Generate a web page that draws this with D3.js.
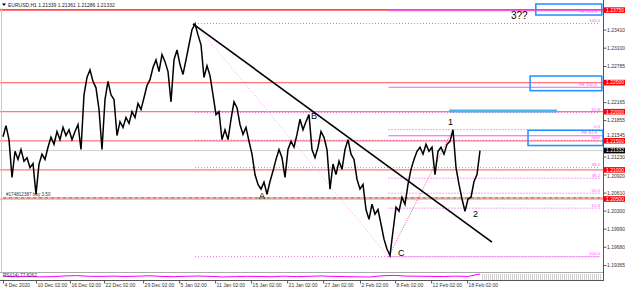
<!DOCTYPE html>
<html>
<head>
<meta charset="utf-8">
<script src="https://cdn.jsdelivr.net/npm/d3@7"></script>
<style>
  body { margin: 0; background: #fff; }
  svg text { font-family: "Liberation Sans", Arial, sans-serif; }
</style>
</head>
<body>
<div id="chart"></div>
<script>
// EURUSD H1 closes, one sample every few bars
var closes = [
  1.2157, 1.2176, 1.2152, 1.2087, 1.2132, 1.2118, 1.2135, 1.2115, 1.2121, 1.2104,
  1.2111, 1.2058, 1.2110, 1.2127, 1.2118, 1.2139, 1.2156, 1.2144, 1.2166, 1.2152,
  1.2173, 1.2159, 1.2169, 1.2152, 1.2166, 1.2178, 1.2135, 1.2229, 1.2259, 1.2272,
  1.2252, 1.2241, 1.2204, 1.2135, 1.2221, 1.2252, 1.2229, 1.2221, 1.2159, 1.2183,
  1.2173, 1.2190, 1.2180, 1.2200, 1.2190, 1.2214, 1.2204, 1.2224, 1.2245, 1.2255,
  1.2276, 1.2289, 1.2269, 1.2298, 1.2286, 1.2269, 1.2217, 1.2289, 1.2306, 1.2281,
  1.2264, 1.2289, 1.2315, 1.2341, 1.2351, 1.2332, 1.2315, 1.2259, 1.2279, 1.2262,
  1.2229, 1.2195, 1.2200, 1.2152, 1.2169, 1.2152, 1.2187, 1.2217, 1.2207, 1.2178,
  1.2161, 1.2173, 1.2149, 1.2127, 1.2092, 1.2075, 1.2067, 1.2079, 1.2058, 1.2080,
  1.2098, 1.2118, 1.2135, 1.2121, 1.2087, 1.2135, 1.2149, 1.2139, 1.2161, 1.2187,
  1.2169, 1.2183, 1.2195, 1.2135, 1.2121, 1.2139, 1.2166, 1.2156, 1.2135, 1.2067,
  1.2110, 1.2092, 1.2115, 1.2101, 1.2135, 1.2152, 1.2127, 1.2118, 1.2084, 1.2067,
  1.2075, 1.2032, 1.2015, 1.2041, 1.2024, 1.2032, 1.2007, 1.1981, 1.1964, 1.1953,
  1.1995, 1.2036, 1.2029, 1.2053, 1.2041, 1.2075, 1.2101, 1.2118, 1.2132, 1.2139,
  1.2127, 1.2144, 1.2132, 1.2139, 1.2092, 1.2132, 1.2139, 1.2127, 1.2144, 1.2149,
  1.2169, 1.2104, 1.2075, 1.2050, 1.2029, 1.2050, 1.2053, 1.2080, 1.2092, 1.2133
];

var rsi = [
  52, 48, 50, 45, 47, 55, 60, 52, 50, 54, 49, 53, 58, 50, 47, 52, 55, 50, 44, 48,
  51, 49, 46, 53, 47, 51, 56, 50, 48, 45, 43, 58, 62, 54, 52, 50, 49, 53, 50, 77.8
];

var timeTicks = [0, 11, 22.3, 33.7, 46.7, 58.7, 70.7, 82.7, 94.7, 106.7, 119, 130.7, 142.7, 154.7];
var timeLabels = ["4 Dec 2020", "10 Dec 02:00", "16 Dec 02:00", "22 Dec 02:00", "29 Dec 02:00",
  "5 Jan 02:00", "11 Jan 02:00", "15 Jan 02:00", "21 Jan 02:00", "27 Jan 02:00",
  "2 Feb 02:00", "8 Feb 02:00", "12 Feb 02:00", "18 Feb 02:00"];

var priceTicks = [1.23410, 1.23100, 1.22785, 1.22475, 1.22165, 1.21855, 1.21545,
  1.21230, 1.20920, 1.20610, 1.20300, 1.19990, 1.19680, 1.19365];

var levelPrices = [1.2375, 1.2250, 1.2200, 1.2150, 1.2100, 1.2050];
var lastPrice = 1.21332;
var orderPrice = 1.2052;

// fibo retracement anchors [bar, price]
var fib1 = [[64, 1.23515], [128.5, 1.19509]];
var fib1Levels = [0, 38.2, 50, 61.8, 100];
var fib2 = [[128.5, 1.19509], [150, 1.21691]];
var fib2Levels = [0, 38.2, 50, 61.8, 100];

var feNames = ["FE 261.8", "FE 100.0", "FE 61.8"];
var fePrices = [1.23735, 1.22419, 1.21588];

var trend = [[63.3, 1.2351], [163, 1.1976]];

var waveNames = ["A", "B", "C", "1", "2", "3??"];
var waveBars = [85.3, 102.7, 131.7, 148.3, 156.7, 169.3];
var wavePrices = [1.2050, 1.21875, 1.19521, 1.21771, 1.20191, 1.23593];

// boxes: [bar0, bar1, priceTop, priceBottom]
var boxes = [[177.6, 199.6, 1.2385, 1.23661], [175.7, 199.6, 1.22613, 1.22361], [175, 200, 1.2168, 1.21419]];
var bar = [148.7, 184.7, 1.22012];

var svgWidth = 625, svgHeight = 290;
var svg = d3.select("#chart").append("svg")
  .attr("width", svgWidth).attr("height", svgHeight);

var x = d3.scaleLinear().domain([0, 200]).range([3, 603]);
var y = d3.scaleLinear().domain([1.19, 1.24]).range([286.3, -4.7]);

svg.append("clipPath").attr("id", "main")
  .append("rect").attr("x", 0).attr("y", 8).attr("width", 603).attr("height", 264);

var chart = svg.append("g").attr("clip-path", "url(#main)");

// frame
svg.append("line").attr("x1", 1.5).attr("x2", 1.5).attr("y1", 8).attr("y2", 272)
  .attr("stroke", "#c8c8c8");

// current price line
chart.append("line").attr("x1", 0).attr("x2", 603)
  .attr("y1", y(lastPrice)).attr("y2", y(lastPrice))
  .attr("stroke", "#cfcfcf");

// red level lines
chart.selectAll(".lvl").data(levelPrices).enter().append("line")
  .attr("x1", 0).attr("x2", 603)
  .attr("y1", d => y(d)).attr("y2", d => y(d))
  .attr("stroke", (d, i) => i === 0 ? "#ff4a4a" : "#ff7878")
  .attr("stroke-width", (d, i) => i === 0 ? 1.6 : 1.2);

// order line
chart.append("line").attr("x1", 3).attr("x2", 603)
  .attr("y1", y(orderPrice)).attr("y2", y(orderPrice))
  .attr("stroke", "#ff9090").attr("stroke-width", 1.2);
chart.append("line").attr("x1", 3).attr("x2", 603)
  .attr("y1", y(orderPrice)).attr("y2", y(orderPrice))
  .attr("stroke", "#55b055").attr("stroke-width", 1.2).attr("stroke-dasharray", "3,3");
chart.append("text").attr("x", 6).attr("y", y(orderPrice) - 1.5)
  .attr("font-size", "4.6px").attr("fill", "#333")
  .text("#174812387 buy 3.50");

// fibo levels
function fibo(anchor, levels, color, skipLabel) {
  var p0 = anchor[1][1], p1 = anchor[0][1];
  levels.forEach(function(l) {
    var p = p0 + (p1 - p0) * l / 100;
    chart.append("line").attr("x1", x(anchor[0][0])).attr("x2", 600)
      .attr("y1", y(p)).attr("y2", y(p))
      .attr("stroke", color).attr("stroke-dasharray", "1,2");
    if (skipLabel.indexOf(l) < 0) {
      chart.append("text").attr("x", 600).attr("y", y(p) - 1.2)
        .attr("text-anchor", "end").attr("font-size", "4.4px").attr("fill", "#ff55ff")
        .text(l.toFixed(1));
    }
  });
}
fibo(fib1, fib1Levels, "#ee66ee", [0]);
fibo(fib2, fib2Levels, "#ee44ee", []);

chart.append("line")
  .attr("x1", x(fib1[0][0])).attr("y1", y(fib1[0][1]))
  .attr("x2", x(fib1[1][0])).attr("y2", y(fib1[1][1]))
  .attr("stroke", "#ff99ff").attr("stroke-dasharray", "1,2");
chart.append("line")
  .attr("x1", x(fib2[0][0])).attr("y1", y(fib2[0][1]))
  .attr("x2", x(fib2[1][0])).attr("y2", y(fib2[1][1]))
  .attr("stroke", "#ff4499").attr("stroke-dasharray", "1,1.5");

// fibo expansion
chart.selectAll(".fe").data(fePrices).enter().append("line")
  .attr("x1", x(128.5)).attr("x2", 603)
  .attr("y1", d => y(d)).attr("y2", d => y(d))
  .attr("stroke", "#ff55ff").attr("stroke-width", 1.1);
chart.selectAll(".fet").data(fePrices).enter().append("text")
  .attr("x", 597).attr("y", d => Math.max(y(d) - 1.2, 13))
  .attr("text-anchor", "end").attr("font-size", "4.4px").attr("fill", "#ff55ff")
  .text((d, i) => feNames[i]);

// price
var line = d3.line().x((d, i) => x(i)).y(d => y(d));
chart.append("path").datum(closes)
  .attr("d", line)
  .attr("fill", "none").attr("stroke", "#000").attr("stroke-width", 1.5)
  .attr("stroke-linejoin", "miter");

// trendline
chart.append("line")
  .attr("x1", x(trend[0][0])).attr("y1", y(trend[0][1]))
  .attr("x2", x(trend[1][0])).attr("y2", y(trend[1][1]))
  .attr("stroke", "#000").attr("stroke-width", 1.6);

// blue bar and boxes
chart.append("line").attr("x1", x(bar[0])).attr("x2", x(bar[1]))
  .attr("y1", y(bar[2])).attr("y2", y(bar[2]))
  .attr("stroke", "#4ab4ea").attr("stroke-width", 3);
svg.selectAll(".box").data(boxes).enter().append("rect")
  .attr("x", d => x(d[0])).attr("y", d => y(d[2]))
  .attr("width", d => x(d[1]) - x(d[0])).attr("height", d => y(d[3]) - y(d[2]))
  .attr("fill", "none").attr("stroke", "#1e90ff").attr("stroke-width", 1.5);

// wave labels
chart.selectAll(".wave").data(waveNames).enter().append("text")
  .attr("x", (d, i) => x(waveBars[i])).attr("y", (d, i) => y(wavePrices[i]))
  .attr("font-size", (d, i) => i === 5 ? "10px" : "9px").attr("fill", "#000")
  .text(d => d);

// title
svg.append("path").attr("d", "M2,3.5 L6,3.5 L4,6 Z").attr("fill", "#000");
svg.append("text").attr("x", 8).attr("y", 6.6).attr("font-size", "5px").attr("fill", "#222")
  .text("EURUSD,H1  1.21339 1.21361 1.21286 1.21332");

// level price labels
var tags = levelPrices.map(d => ({p: d, bg: "#ff0000"})).concat([{p: lastPrice, bg: "#000"}]);
function tagY(p) { return Math.max(y(p) - 2.8, 7.3); }

// right price axis, ticks that sit under a tag are dropped or nudged
var yAxis = d3.axisRight(y).tickValues(priceTicks.filter(t =>
    !tags.some(g => Math.abs(y(g.p) - y(t)) < 2)))
  .tickSize(3).tickFormat(d3.format(".5f"));
var ya = svg.append("g").attr("transform", "translate(603.5,0)").call(yAxis);
ya.select(".domain").remove();
ya.selectAll("text").attr("font-size", "5px").attr("fill", "#333").attr("x", 3.5)
  .attr("font-family", "Liberation Sans, Arial, sans-serif")
  .attr("dy", function(t) {
    var near = tags.find(g => Math.abs(y(g.p) - y(t)) < 5.5);
    if (!near) return "0.32em";
    var shift = y(t) < y(near.p) ? -(5.5 - (y(near.p) - y(t))) : 5.5 - (y(t) - y(near.p));
    return (1.6 + shift) + "px";
  });
ya.selectAll("line").attr("stroke", "#555");
svg.append("line").attr("x1", 603.5).attr("x2", 603.5).attr("y1", 0).attr("y2", 281)
  .attr("stroke", "#555");

svg.selectAll(".tag").data(tags).enter().append("rect")
  .attr("x", 604).attr("y", d => tagY(d.p))
  .attr("width", 21).attr("height", 5.6).attr("fill", d => d.bg);
svg.selectAll(".tagt").data(tags).enter().append("text")
  .attr("x", 606).attr("y", d => tagY(d.p) + 4.6)
  .attr("font-size", "5px").attr("fill", "#fff")
  .text(d => d.p.toFixed(5));

// indicator window
svg.append("line").attr("x1", 0).attr("x2", 603).attr("y1", 272.5).attr("y2", 272.5).attr("stroke", "#aaa");
svg.append("line").attr("x1", 0).attr("x2", 603).attr("y1", 280.5).attr("y2", 280.5).attr("stroke", "#555");
for (var hx = 482; hx < 602; hx += 2) {
  svg.append("line").attr("x1", hx + 0.5).attr("x2", hx + 0.5).attr("y1", 274).attr("y2", 280)
    .attr("stroke", "#d0d0d0");
}
var rx = d3.scaleLinear().domain([0, rsi.length - 1]).range([x(0), x(159)]);
var ry = d3.scaleLinear().domain([20, 90]).range([279, 273]);
svg.append("path").datum(rsi)
  .attr("d", d3.line().x((d, i) => rx(i)).y(d => ry(d)))
  .attr("fill", "none").attr("stroke", "#ff00ff").attr("stroke-width", 1);
svg.append("text").attr("x", 3).attr("y", 277).attr("font-size", "4.6px").attr("fill", "#333")
  .text("RSI(14) 77.8262");

// time axis
var xAxis = d3.axisBottom(x).tickValues(timeTicks).tickSize(3)
  .tickFormat((d, i) => timeLabels[i]);
var xa = svg.append("g").attr("transform", "translate(0,280.5)").call(xAxis);
xa.select(".domain").remove();
xa.selectAll("line").attr("stroke", "#555");
xa.selectAll("text").attr("font-size", "5px").attr("fill", "#333")
  .attr("text-anchor", "start").attr("dx", 1).attr("y", 3)
  .attr("font-family", "Liberation Sans, Arial, sans-serif");
</script>
</body>
</html>
